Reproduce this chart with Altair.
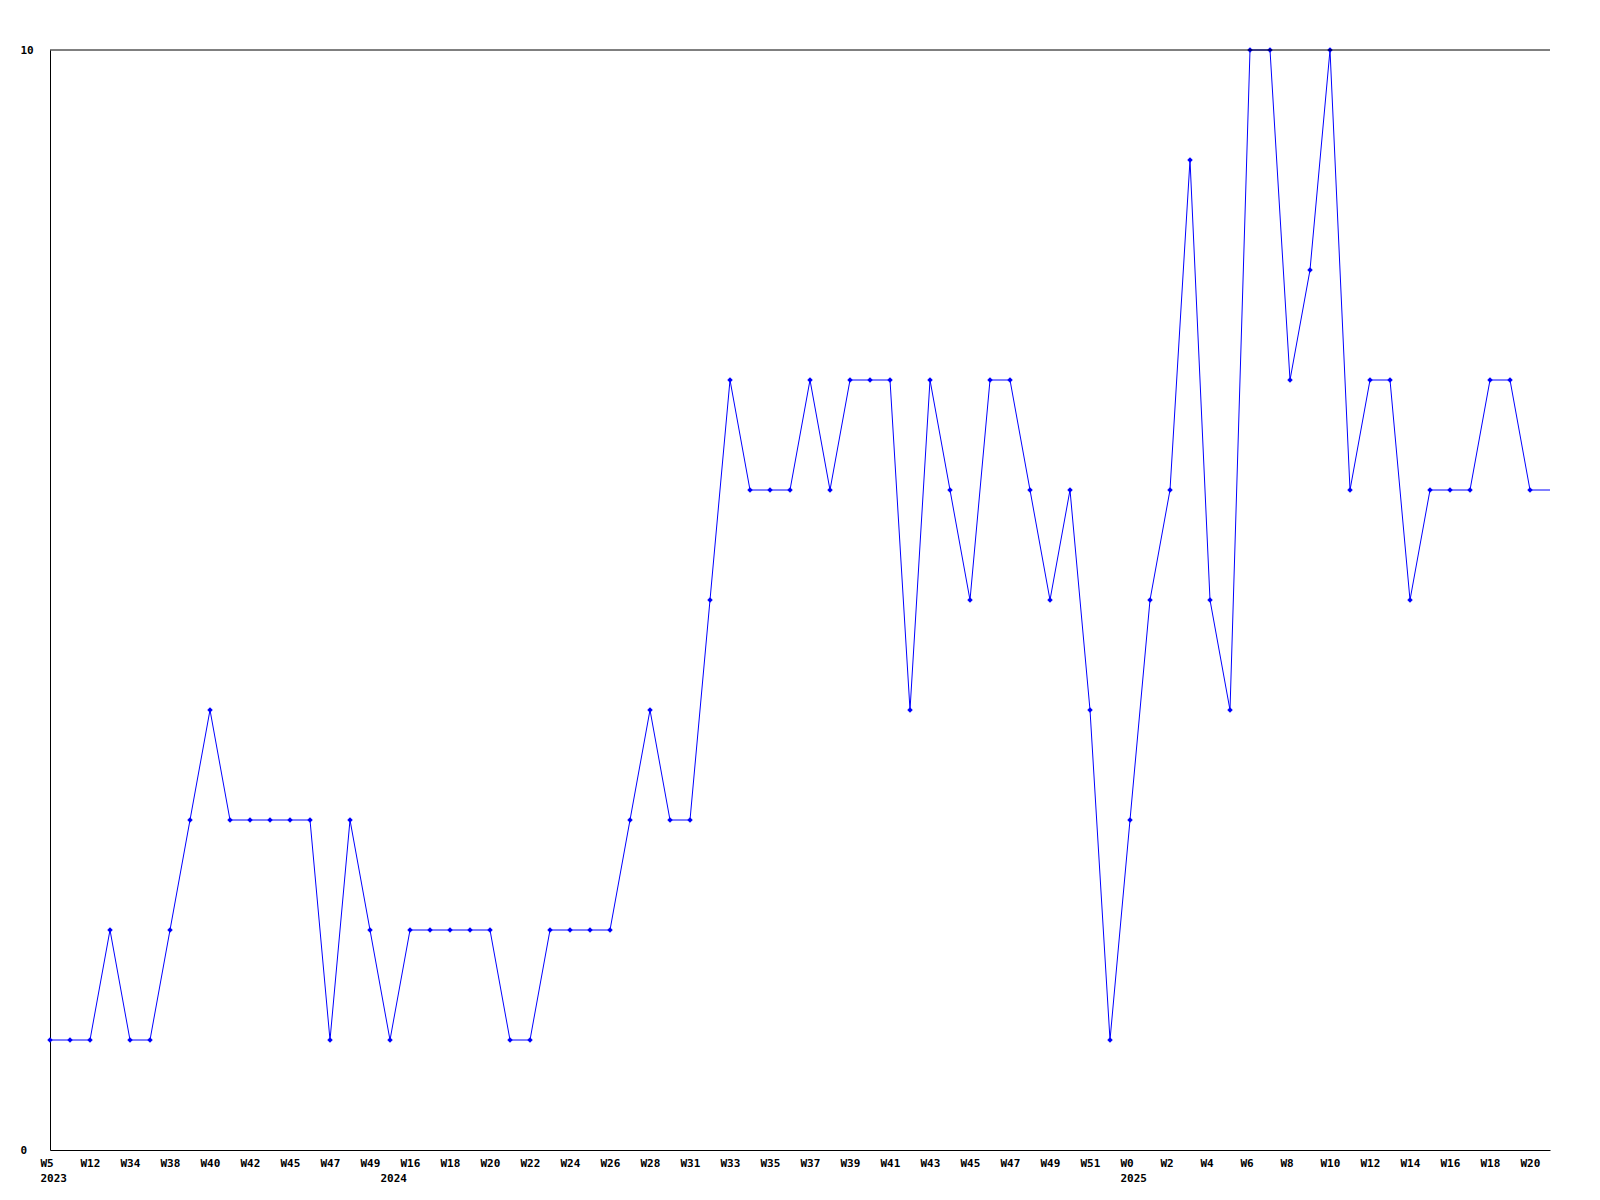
import json
import altair as alt
import pandas as pd

# values per weekly point (76 points)
values = [1, 1, 1, 2, 1, 1, 2, 3, 4, 3,
          3, 3, 3, 3, 1, 3, 2, 1, 2, 2,
          2, 2, 2, 1, 1, 2, 2, 2, 2, 3,
          4, 3, 3, 5, 7, 6, 6, 6, 7, 6,
          7, 7, 7, 4, 7, 6, 5, 7, 7, 6,
          5, 6, 4, 1, 3, 5, 6, 9, 5, 4,
          10, 10, 7, 8, 10, 6, 7, 7, 5, 6,
          6, 6, 7, 7, 6, 6]

# labels shown at every other point
week_ticks = ["W5", "W12", "W34", "W38", "W40", "W42", "W45", "W47", "W49",
              "W16", "W18", "W20", "W22", "W24", "W26", "W28", "W31", "W33",
              "W35", "W37", "W39", "W41", "W43", "W45", "W47", "W49", "W51",
              "W0", "W2", "W4", "W6", "W8", "W10", "W12", "W14", "W16", "W18", "W20"]

# year label -> point index where the year starts
year_names = ["2023", "2024", "2025"]
year_index = [0, 17, 54]

n = len(values)
idx = list(range(n))
df = pd.DataFrame({"i": idx, "v": values})

week_idx = list(range(0, 2 * len(week_ticks), 2))
week_expr = json.dumps(week_ticks) + "[floor(datum.value / 2)]"
year_map = {str(i): y for i, y in zip(year_index, year_names)}
year_expr = json.dumps([year_map.get(str(i), "") for i in idx]) + "[datum.value]"

font = "DejaVu Sans Mono"
lab = dict(labelFont=font, labelFontWeight="bold", labelFontSize=11,
           labelColor="black", labelAlign="left", labelOffset=-10,
           labelBaseline="top", labelOverlap=False, labelFlush=False,
           labelBound=False, ticks=False, tickSize=0, grid=False, title=None)

xscale = alt.Scale(domain=[0, n - 1], nice=False, zero=False)

x_week = alt.X("i:Q", scale=xscale,
               axis=alt.Axis(values=week_idx, labelExpr=week_expr,
                             labelPadding=7, orient="bottom",
                             domainColor="black", domainWidth=1, **lab))
x_year = alt.X("i:Q", scale=xscale,
               axis=alt.Axis(values=year_index, labelExpr=year_expr,
                             labelPadding=22, orient="bottom", domain=False,
                             **lab))
y_enc = alt.Y("v:Q",
              scale=alt.Scale(domain=[0, 10], nice=False),
              axis=alt.Axis(values=[0, 10], format="d", title=None, ticks=False,
                            tickSize=0, grid=False, labelAlign="left",
                            labelPadding=30, labelBaseline="middle",
                            labelFont=font, labelFontWeight="bold",
                            labelFontSize=11, labelColor="black",
                            domainColor="black", domainWidth=1))

base = alt.Chart(df)
line = base.mark_line(color="#0000ff", strokeWidth=1).encode(x=x_week, y=y_enc)
pts = base.transform_filter(alt.datum.i < n - 1).mark_point(
    shape="diamond", filled=True, size=30, color="#0000ff", opacity=1
).encode(x=x_year, y="v:Q")
top = alt.Chart(pd.DataFrame({"t": [10]})).mark_rule(
    color="black", strokeWidth=1
).encode(y="t:Q")

chart = alt.layer(line, pts, top).resolve_axis(x="independent").properties(
    width=1500, height=1100,
    autosize=alt.AutoSizeParams(type="none"),
    padding={"left": 42, "top": 42, "right": 42, "bottom": 40},
    background="white",
).configure_view(stroke=None)

chart.save("out.html", embed_options={"renderer": "svg", "actions": False})
